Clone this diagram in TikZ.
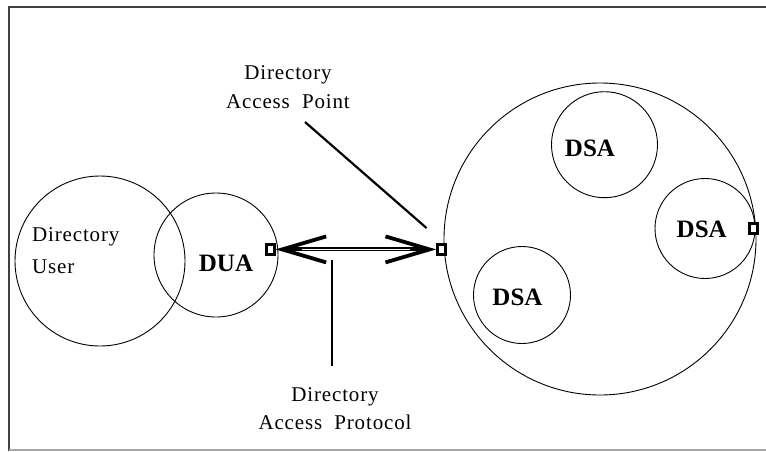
\documentclass[tikz,border=0pt]{standalone}
\usepackage{fontspec}
\usepackage{tikz}
\usetikzlibrary{arrows.meta}
\setmainfont{Liberation Serif}
\newfontfamily\spacedfont{Liberation Serif}[LetterSpace=4]
\colorlet{framecol}{black!75}
\colorlet{framelow}{black!35}
\begin{document}
\begin{tikzpicture}[x=1pt, y=-1pt]
\tikzstyle{ring}=[draw, circle, line width=0.9pt, inner sep=0pt, outer sep=0pt]
\tikzstyle{apbox}=[draw, rectangle, fill=white, line width=3pt, minimum width=8pt, minimum height=10pt, inner sep=0pt]
\tikzstyle{lbl}=[inner sep=0pt, font=\spacedfont\fontsize{21}{29}\selectfont]
\tikzstyle{agent}=[inner sep=0pt, font=\fontsize{25}{30}\selectfont\bfseries]
\tikzstyle{pointer}=[line width=2.2pt, black]
\tikzstyle{protocol}=[line width=4pt, {Straight Barb[length=44pt, width=26pt, line width=3.8pt]}-{Straight Barb[length=44pt, width=26pt, line width=3.8pt]}]
\tikzstyle{gap}=[line width=1pt, white, shorten <=26pt, shorten >=26pt]

\useasboundingbox (0,0) rectangle (766,451);

% frame
\draw[framecol, line width=2pt] (9,451) -- (9,7) -- (766,7);
\draw[framelow, line width=1.5pt] (9,450) -- (766,450);

% user side
\node[ring, minimum size=170pt] (user) at (100,261) {};
\node[ring, minimum size=124pt] (dua) at (216,255) {};
\node[lbl, anchor=base west, align=left, font=\spacedfont\fontsize{21}{31.5}\selectfont] (usertext) at (32,273.3) {Directory\\User};
\node[agent, anchor=base] (duatext) at (226,271.7) {DUA};

% directory system
\node[ring, minimum size=312pt] (dsys) at (600,239) {};
\node[ring, minimum size=106pt] (dsaa) at (604.5,144.7) {};
\node[ring, minimum size=100pt] (dsab) at (705,228.5) {};
\node[ring, minimum size=97pt] (dsac) at (522,295) {};
\node[agent, anchor=base] (dsaatext) at (590,156) {DSA};
\node[agent, anchor=base] (dsabtext) at (701.7,237.7) {DSA};
\node[agent, anchor=base] (dsactext) at (517.5,305) {DSA};

% access points
\node[apbox] (dap) at (270,249.4) {};
\node[apbox] (ap) at (441.7,249.4) {};
\node[apbox] (apb) at (753.7,228.8) {};

% protocol arrow, hollow in the middle
\draw[protocol] (dap) -- (ap);
\draw[gap] (dap) -- (ap);

% labels with pointers
\node[lbl, anchor=base, align=center] (aptext) at (288,108.3) {Directory\\Access\ \ Point};
\coordinate (aptop) at (305,122);
\coordinate (apfoot) at (426.5,228);
\draw[pointer] (aptop) -- (apfoot);

\node[lbl, anchor=base, align=center, font=\spacedfont\fontsize{21}{27.6}\selectfont] (daptext) at (335,429.3) {Directory\\Access\ \ Protocol};
\coordinate (daptop) at (332,260);
\coordinate (dapfoot) at (332,366);
\draw[pointer] (daptop) -- (dapfoot);
\end{tikzpicture}
\end{document}
